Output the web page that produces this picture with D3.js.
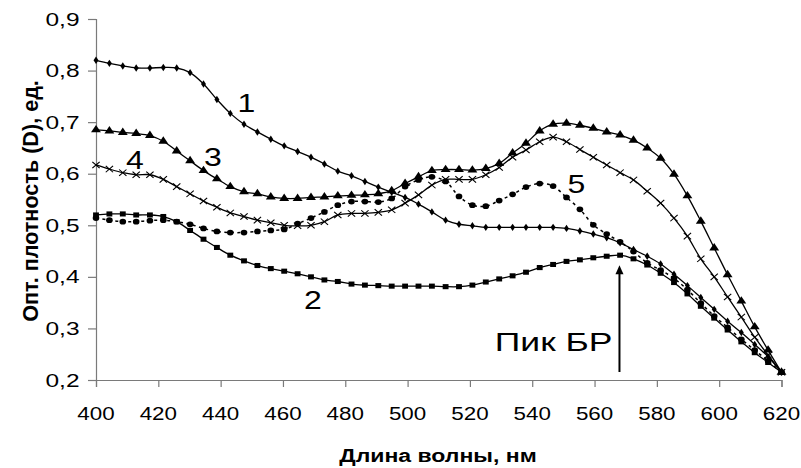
<!DOCTYPE html>
<html>
<head>
<meta charset="utf-8">
<script src="https://cdn.jsdelivr.net/npm/d3@7/dist/d3.min.js"></script>
<style>
  html, body { margin: 0; padding: 0; background: #fff; }
  svg { display: block; }
  text { font-family: "Liberation Sans", Arial, sans-serif; fill: #000; }
</style>
</head>
<body>
<svg id="chart" width="801" height="468"></svg>
<script>
// Wavelengths of the measured points, nm
const wavelengths = [400, 404.3, 408.6, 412.9, 417.3, 421.6, 425.9, 430.2, 434.5, 438.8,
  443.1, 447.5, 451.8, 456.1, 460.4, 464.7, 469.0, 473.3, 477.6, 482.0,
  486.3, 490.6, 494.9, 499.2, 503.5, 507.8, 512.2, 516.5, 520.8, 525.1,
  529.4, 533.7, 538.0, 542.4, 546.7, 551.0, 555.3, 559.6, 563.9, 568.2,
  572.5, 576.9, 581.2, 585.5, 589.8, 594.1, 598.4, 602.7, 607.1, 611.4,
  615.7, 620.0];

// Optical density of each sample
const curve1 = [0.820, 0.814, 0.809, 0.805, 0.805, 0.806, 0.805, 0.796, 0.774, 0.744,
  0.717, 0.696, 0.681, 0.667, 0.654, 0.643, 0.632, 0.619, 0.605, 0.596,
  0.585, 0.574, 0.564, 0.554, 0.541, 0.526, 0.510, 0.502, 0.499, 0.496,
  0.496, 0.496, 0.496, 0.496, 0.496, 0.494, 0.489, 0.483, 0.476, 0.466,
  0.453, 0.440, 0.425, 0.405, 0.383, 0.360, 0.337, 0.314, 0.292, 0.269,
  0.245, 0.215];
const curve2 = [0.520, 0.522, 0.522, 0.520, 0.520, 0.517, 0.507, 0.490, 0.473, 0.457,
  0.442, 0.431, 0.422, 0.416, 0.411, 0.406, 0.400, 0.394, 0.391, 0.386,
  0.384, 0.383, 0.382, 0.382, 0.382, 0.382, 0.381, 0.381, 0.384, 0.390,
  0.396, 0.402, 0.409, 0.418, 0.424, 0.430, 0.433, 0.437, 0.440, 0.442,
  0.435, 0.423, 0.407, 0.389, 0.367, 0.343, 0.320, 0.297, 0.274, 0.253,
  0.234, 0.215];
const curve3 = [0.685, 0.683, 0.680, 0.678, 0.674, 0.663, 0.644, 0.625, 0.606, 0.590,
  0.575, 0.565, 0.561, 0.555, 0.552, 0.552, 0.554, 0.555, 0.557, 0.558,
  0.559, 0.561, 0.567, 0.581, 0.594, 0.606, 0.608, 0.608, 0.607, 0.610,
  0.620, 0.640, 0.659, 0.683, 0.696, 0.698, 0.694, 0.688, 0.681, 0.675,
  0.665, 0.650, 0.630, 0.599, 0.557, 0.508, 0.456, 0.404, 0.353, 0.303,
  0.258, 0.215];
const curve4 = [0.617, 0.609, 0.602, 0.598, 0.598, 0.589, 0.575, 0.561, 0.547, 0.535,
  0.524, 0.517, 0.510, 0.505, 0.500, 0.499, 0.500, 0.507, 0.520, 0.523,
  0.523, 0.525, 0.530, 0.543, 0.559, 0.578, 0.589, 0.589, 0.589, 0.598,
  0.612, 0.632, 0.646, 0.662, 0.671, 0.662, 0.647, 0.632, 0.617, 0.602,
  0.588, 0.566, 0.543, 0.514, 0.479, 0.435, 0.400, 0.361, 0.322, 0.283,
  0.248, 0.215];
const curve5 = [0.514, 0.510, 0.507, 0.507, 0.509, 0.510, 0.507, 0.502, 0.494, 0.488,
  0.486, 0.486, 0.488, 0.490, 0.492, 0.503, 0.514, 0.526, 0.539, 0.546,
  0.546, 0.545, 0.552, 0.575, 0.588, 0.594, 0.585, 0.556, 0.539, 0.537,
  0.548, 0.560, 0.574, 0.581, 0.576, 0.554, 0.531, 0.501, 0.483, 0.468,
  0.449, 0.427, 0.413, 0.397, 0.375, 0.349, 0.324, 0.302, 0.279, 0.258,
  0.237, 0.215];

const seriesNames = ["1", "2", "3", "4", "5"];
const xTicks = [400, 420, 440, 460, 480, 500, 520, 540, 560, 580, 600, 620];
const yTicks = [0.2, 0.3, 0.4, 0.5, 0.6, 0.7, 0.8, 0.9];
const peakWavelength = 568;
const peakLabel = "Пик БР";
const xTitle = "Длина волны, нм";
const yTitle = "Опт. плотность (D), ед.";

const svg = d3.select("#chart");
const x = d3.scaleLinear().domain([400, 620]).range([96, 781.5]);
const y = d3.scaleLinear().domain([0.2, 0.9]).range([380, 19]);
const fmt = v => d3.format(".1f")(v).replace(".", ",");

// Axes
const axisColor = "#7a7a7a";
const gx = svg.append("g").attr("transform", "translate(0,380)")
  .call(d3.axisBottom(x).tickValues(xTicks).tickSize(7).tickFormat(() => ""));
const gy = svg.append("g").attr("transform", "translate(96,0)")
  .call(d3.axisLeft(y).tickValues(yTicks).tickSize(8).tickFormat(() => ""));
[gx, gy].forEach(g => {
  g.select(".domain").attr("stroke", axisColor).attr("stroke-width", 1.2);
  g.selectAll(".tick line").attr("stroke", axisColor).attr("stroke-width", 1.2);
});

// Text with horizontally widened glyphs
function wideText(px, py, str, size, anchor, stretch, weight) {
  return svg.append("text")
    .attr("transform", `translate(${px},${py}) scale(${stretch},1)`)
    .attr("text-anchor", anchor)
    .attr("font-size", size)
    .attr("font-weight", weight || "normal")
    .text(str);
}
xTicks.forEach(t => wideText(x(t), 419.5, String(t), 17.5, "middle", 1.28));
yTicks.forEach(t => wideText(79.5, y(t) + 6.5, fmt(t), 17.5, "end", 1.4));

// Axis titles
wideText(438, 461.5, xTitle, 18, "middle", 1.28, "bold");
svg.append("text")
  .attr("transform", "translate(38,201) rotate(-90) scale(1.2,1.2)")
  .attr("text-anchor", "middle")
  .attr("font-size", 18)
  .attr("font-weight", "bold")
  .text(yTitle);

// Curves
const series = [
  { name: "1", values: curve1, marker: "diamond", dash: null },
  { name: "2", values: curve2, marker: "square", dash: null },
  { name: "3", values: curve3, marker: "triangle", dash: null },
  { name: "4", values: curve4, marker: "cross", dash: null },
  { name: "5", values: curve5, marker: "circle", dash: "3,3.5" }
];

const line = d3.line()
  .x((d, i) => x(wavelengths[i]))
  .y(d => y(d))
  .curve(d3.curveCatmullRom.alpha(0.5));

const markerShapes = {
  diamond: d3.symbol().type(d3.symbolDiamond).size(16),
  square: d3.symbol().type(d3.symbolSquare).size(26),
  triangle: d3.symbol().type(d3.symbolTriangle).size(32),
  cross: d3.symbol().type(d3.symbolTimes).size(28),
  circle: d3.symbol().type(d3.symbolCircle).size(26)
};

series.forEach(s => {
  const g = svg.append("g").attr("class", "series s" + s.name);
  g.append("path")
    .attr("d", line(s.values))
    .attr("fill", "none")
    .attr("stroke", "#000")
    .attr("stroke-width", s.dash ? 1.5 : 1.3)
    .attr("stroke-dasharray", s.dash);
  g.selectAll("path.mk").data(s.values).join("path")
    .attr("class", "mk")
    .attr("transform", (d, i) => `translate(${x(wavelengths[i])},${y(d)}) scale(1.15,1)`)
    .attr("d", markerShapes[s.marker])
    .attr("fill", s.marker === "cross" ? "none" : "#000")
    .attr("stroke", "#000")
    .attr("stroke-width", s.marker === "cross" ? 1 : 0);
});

// Curve numbers
const numberPos = { "1": [448.3, 0.737], "2": [469.6, 0.355], "3": [437.5, 0.633], "4": [412.5, 0.627], "5": [554.2, 0.581] };
seriesNames.forEach(n => {
  const [wl, v] = numberPos[n];
  wideText(x(wl), y(v) + 9, n, 25, "middle", 1.28);
});

// Peak arrow
const peakIdx = wavelengths.findIndex(w => Math.abs(w - peakWavelength) < 1);
const arrowTop = y(curve2[peakIdx]) + 10;
svg.append("line")
  .attr("x1", x(peakWavelength)).attr("x2", x(peakWavelength))
  .attr("y1", 372).attr("y2", arrowTop + 6)
  .attr("stroke", "#000").attr("stroke-width", 2);
svg.append("path")
  .attr("d", `M${x(peakWavelength)},${arrowTop} l-4,9 l8,0 z`)
  .attr("fill", "#000");
wideText(x(peakWavelength) - 7, 350.5, peakLabel, 25, "end", 1.42);
</script>
</body>
</html>
